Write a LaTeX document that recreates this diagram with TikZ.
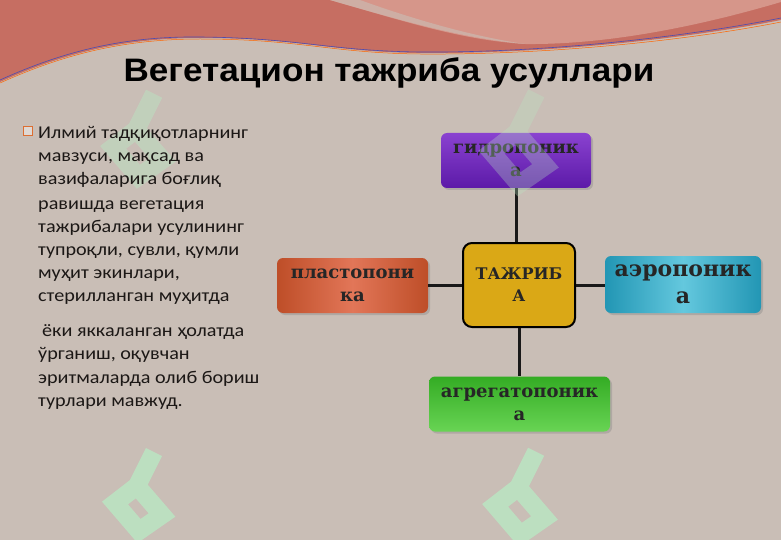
\documentclass[tikz,border=0pt]{standalone}
\usepackage{fontspec}
\setmainfont{Carlito}
\newfontfamily\titlefont{Liberation Sans}
\newfontfamily\boxfont{DejaVu Serif}
\usetikzlibrary{shadows}
\definecolor{bg}{RGB}{201,190,182}
\definecolor{bandred}{RGB}{198,110,98}
\definecolor{bandlight}{RGB}{214,150,138}
\definecolor{wm}{RGB}{185,232,195}
\definecolor{purpA}{RGB}{92,26,168}
\definecolor{purpB}{RGB}{138,66,208}
\definecolor{goldA}{RGB}{218,168,22}
\definecolor{orA}{RGB}{190,78,40}
\definecolor{orB}{RGB}{226,118,88}
\definecolor{cyA}{RGB}{34,150,180}
\definecolor{cyB}{RGB}{100,200,222}
\definecolor{grA}{RGB}{52,172,36}
\definecolor{grB}{RGB}{104,212,84}
\definecolor{bulletor}{RGB}{220,110,50}
\definecolor{txt}{RGB}{28,24,22}
\newcommand\bl[1]{\scalebox{1.12}[1]{#1}}
% #1,#2 = tail top, #3 = scale, #4 = opacity
\newcommand\wmark[4]{%
  \begin{scope}[shift={(#1,#2)}, scale=#3]
    \draw[wm, opacity=#4, line width=18pt, line join=miter, line cap=butt]
      (2,-4) -- (-15,30) -- (-37,47) -- (-13,75) -- (10,59) -- (-15,30);
  \end{scope}}
\tikzset{
  leaf/.style={rounded corners=6pt, minimum height=55pt, align=center,
    font=\boxfont\bfseries\fontsize{18}{23}\selectfont, text=black!85,
    inner sep=2pt, drop shadow={opacity=0.35, shadow xshift=2pt, shadow yshift=-2pt}},
  link/.style={line width=3pt, black!90},
  bodyline/.style={anchor=base west, inner sep=0pt, font=\fontsize{18}{20}\selectfont, text=txt}
}
\begin{document}
\begin{tikzpicture}[x=1pt,y=-1pt]
\useasboundingbox (0,0) rectangle (781,540);
\fill[bg] (0,0) rectangle (781,540);
% watermarks (background)
\wmark{152}{456}{1}{0.8}
\wmark{534}{456}{1.05}{0.8}
\wmark{152}{98}{1.05}{0.45}
% top band
\fill[bandred] (0,0) -- (0,82) .. controls (60,55) and (120,38) .. (200,38)
  .. controls (300,38) and (330,52) .. (420,53) .. controls (540,54) and (680,40) .. (781,20) -- (781,0) -- cycle;
\fill[bandlight] (330,0) .. controls (400,20) and (460,40) .. (525,44)
  .. controls (620,45) and (720,20) .. (781,2) -- (781,0) -- cycle;
\fill[bg!60!bandlight] (330,0) .. controls (400,20) and (460,38) .. (525,44)
  .. controls (470,36) and (410,18) .. (360,0) -- cycle;
\draw[blue!40!gray, line width=0.6pt] (0,80) .. controls (60,53) and (120,36) .. (200,37)
  .. controls (300,38) and (330,51) .. (420,52) .. controls (540,53) and (680,38) .. (781,18);
\draw[orange!80!red, line width=0.5pt] (0,83) .. controls (60,56) and (120,39) .. (200,39)
  .. controls (300,39) and (330,53) .. (420,54) .. controls (540,55) and (680,42) .. (781,22);
% title
\node[font=\titlefont\bfseries\fontsize{32.5}{33}\selectfont, text=black, anchor=base] (title) at (389,82) {\scalebox{1.08}[1]{Вегетацион тажриба усуллари}};
% bullet
\node[draw=bulletor, fill=bg!60!white, line width=1.2pt, minimum size=9pt, inner sep=0pt] (bul) at (28,131) {};
% body text
\node[bodyline] (l1) at (38,139) {\bl{Илмий тадқиқотларнинг}};
\node[bodyline] (l2) at (38,162) {\bl{мавзуси, мақсад ва}};
\node[bodyline] (l3) at (38,185) {\bl{вазифаларига боғлиқ}};
\node[bodyline] (l4) at (38,209) {\bl{равишда вегетация}};
\node[bodyline] (l5) at (38,232) {\bl{тажрибалари усулининг}};
\node[bodyline] (l6) at (38,255) {\bl{тупроқли, сувли, қумли}};
\node[bodyline] (l7) at (38,278) {\bl{муҳит экинлари,}};
\node[bodyline] (l8) at (38,301) {\bl{стерилланган муҳитда}};
\node[bodyline] (l9) at (42,336) {\bl{ёки яккаланган ҳолатда}};
\node[bodyline] (l10) at (38,359) {\bl{ўрганиш, оқувчан}};
\node[bodyline] (l11) at (38,383) {\bl{эритмаларда олиб бориш}};
\node[bodyline] (l12) at (38,406) {\bl{турлари мавжуд.}};
% diagram
\node[leaf, minimum width=150pt, top color=purpB, bottom color=purpA] (hyd) at (516,160.5) {гидропоник\\а};
\node[draw=black, line width=2pt, rounded corners=9pt, fill=goldA, minimum width=112pt, minimum height=84pt,
  align=center, font=\boxfont\bfseries\fontsize{16}{22}\selectfont, text=black!85] (core) at (519,285) {ТАЖРИБ\\А};
\node[leaf, minimum width=151pt, left color=orA, right color=orA, middle color=orB] (pla) at (352.5,285.5) {пластопони\\ка};
\node[leaf, minimum width=156pt, minimum height=57pt, left color=cyA, right color=cyA, middle color=cyB,
  font=\boxfont\bfseries\fontsize{22}{27}\selectfont] (aer) at (683,284.5) {аэропоник\\а};
\node[leaf, minimum width=181pt, top color=grA, bottom color=grB] (agr) at (519.5,404) {агрегатопоник\\а};
\draw[link] (hyd.south) -- (hyd.south |- core.north);
\draw[link] (core.south) -- (core.south |- agr.north);
\draw[link] (core.west) -- (core.west -| pla.east);
\draw[link] (core.east) -- (core.east -| aer.west);
% watermark seen through the purple box
\wmark{534}{98}{1.15}{0.3}
\end{tikzpicture}
\end{document}
